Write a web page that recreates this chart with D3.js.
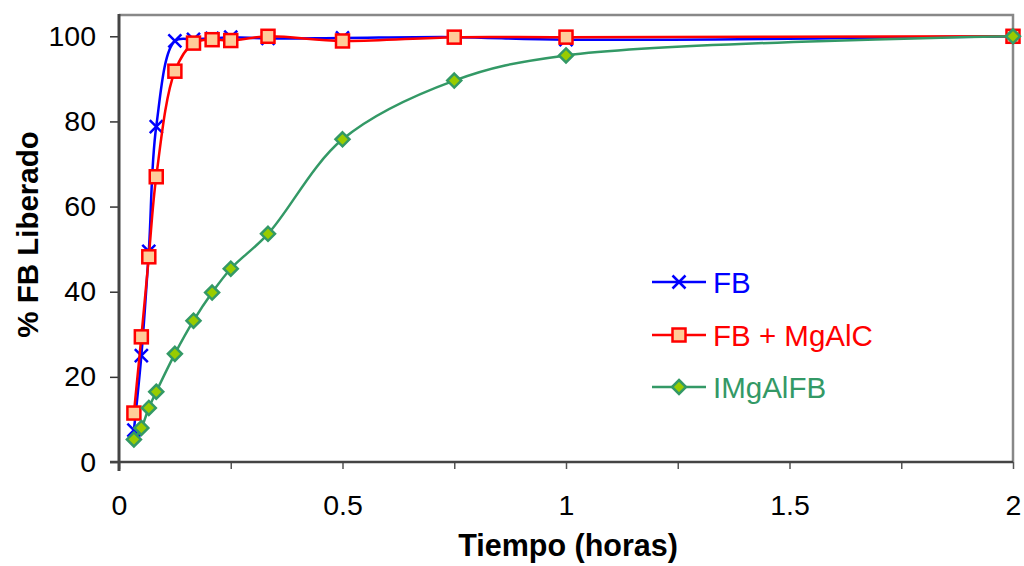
<!DOCTYPE html>
<html><head><meta charset="utf-8">
<script src="https://cdn.jsdelivr.net/npm/d3@7"></script>
<style>body{margin:0;background:#fff}svg{display:block}text{font-family:"Liberation Sans",Arial,sans-serif}</style>
</head><body><svg id="c" width="1024" height="566"></svg>
<script>
const times = [1/30, 0.05, 1/15, 1/12, 0.125, 1/6, 5/24, 0.25, 1/3, 0.5, 0.75, 1, 2];
const fb = [7.5, 25, 49.5, 78.8, 98.9, 99.3, 99.5, 99.8, 99.5, 99.6, 99.8, 99.2, 100];
const fbMgAlC = [11.5, 29.4, 48.2, 67, 91.8, 98.4, 99.2, 99, 100, 98.9, 99.8, 99.8, 100];
const imgAlFB = [5.3, 8, 12.7, 16.5, 25.4, 33.2, 39.8, 45.4, 53.6, 75.8, 89.6, 95.5, 100];
const seriesNames = ["FB", "FB + MgAlC", "IMgAlFB"];
const xTicks = [0, 0.25, 0.5, 0.75, 1, 1.25, 1.5, 1.75, 2];
const xLabels = ["0", "0.5", "1", "1.5", "2"];
const yTicks = [0, 20, 40, 60, 80, 100];

const svg = d3.select("#c");
const L = 119, R = 1013, T = 15, B = 462;
const x = d3.scaleLinear().domain([0, 2]).range([L, R]);
const y = d3.scaleLinear().domain([0, 105]).range([B, T]);

// frame (top/right)
svg.append("path").attr("d", `M${L},${T}H${R}V${B}`).attr("fill", "none").attr("stroke", "#888").attr("stroke-width", 2.5);

// axes
const yAxis = d3.axisLeft(y).tickValues(yTicks).tickSize(9).tickPadding(14).tickFormat(d3.format("d"));
const gy = svg.append("g").attr("transform", `translate(${L},0)`).call(yAxis);
gy.select(".domain").remove();
gy.selectAll(".tick line").attr("stroke", "#333").attr("stroke-width", 1.5);
gy.selectAll("text").attr("font-size", 28.5).attr("fill", "#000");

const xAxis = d3.axisBottom(x).tickValues(xTicks).tickSize(7).tickPadding(26)
  .tickFormat(d => { const s = d3.format("")(d); return xLabels.includes(s) ? s : ""; });
const gx = svg.append("g").attr("transform", `translate(0,${B})`).call(xAxis);
gx.select(".domain").remove();
gx.selectAll(".tick line").attr("stroke", "#555").attr("stroke-width", 1.5);
gx.selectAll("text").attr("font-size", 28.5).attr("fill", "#000");

svg.append("line").attr("x1", L).attr("x2", L).attr("y1", T - 1).attr("y2", B + 9).attr("stroke", "#444").attr("stroke-width", 3);
svg.append("line").attr("x1", L - 9).attr("x2", R).attr("y1", B).attr("y2", B).attr("stroke", "#444").attr("stroke-width", 2.5);

// titles
svg.append("text").attr("x", (L + R) / 2 + 2).attr("y", 556).attr("text-anchor", "middle")
  .attr("font-size", 30.5).attr("font-weight", "bold").text("Tiempo (horas)");
svg.append("text").attr("transform", `translate(38,${(T + B) / 2 - 4}) rotate(-90)`).attr("text-anchor", "middle")
  .attr("font-size", 29.5).attr("font-weight", "bold").text("% FB Liberado");

const styles = [
  {vals: fb, color: "#0000ff", marker: "x"},
  {vals: fbMgAlC, color: "#ff0000", marker: "square"},
  {vals: imgAlFB, color: "#339966", marker: "diamond"}
];
const line = d3.line().x(d => x(d[0])).y(d => y(d[1])).curve(d3.curveCatmullRom.alpha(0.5));

function drawMarker(g, type, cx, cy, color) {
  if (type === "x") {
    const s = 6.5;
    g.append("path").attr("d", `M${cx - s},${cy - s}L${cx + s},${cy + s}M${cx - s},${cy + s}L${cx + s},${cy - s}`)
      .attr("stroke", color).attr("stroke-width", 2.5).attr("fill", "none");
  } else if (type === "square") {
    g.append("rect").attr("x", cx - 6.5).attr("y", cy - 6.5).attr("width", 13).attr("height", 13)
      .attr("fill", "#ffcc99").attr("stroke", color).attr("stroke-width", 2.5);
  } else {
    const s = 7;
    g.append("path").attr("d", `M${cx},${cy - s}L${cx + s},${cy}L${cx},${cy + s}L${cx - s},${cy}Z`)
      .attr("fill", "#99cc00").attr("stroke", color).attr("stroke-width", 2.5);
  }
}

styles.forEach(s => {
  const pts = times.map((t, i) => [t, s.vals[i]]);
  const g = svg.append("g");
  g.append("path").attr("d", line(pts)).attr("fill", "none").attr("stroke", s.color).attr("stroke-width", 2.5);
  pts.forEach(p => drawMarker(g, s.marker, x(p[0]), y(p[1]), s.color));
});

// legend
const legY = [282, 335, 387];
styles.forEach((s, i) => {
  const g = svg.append("g");
  g.append("line").attr("x1", 652).attr("x2", 706).attr("y1", legY[i]).attr("y2", legY[i]).attr("stroke", s.color).attr("stroke-width", 2.5);
  drawMarker(g, s.marker, 679, legY[i], s.color);
  g.append("text").attr("x", 713).attr("y", legY[i] + 10.5).attr("font-size", 29.5).attr("fill", s.color).text(seriesNames[i]);
});
</script></body></html>
